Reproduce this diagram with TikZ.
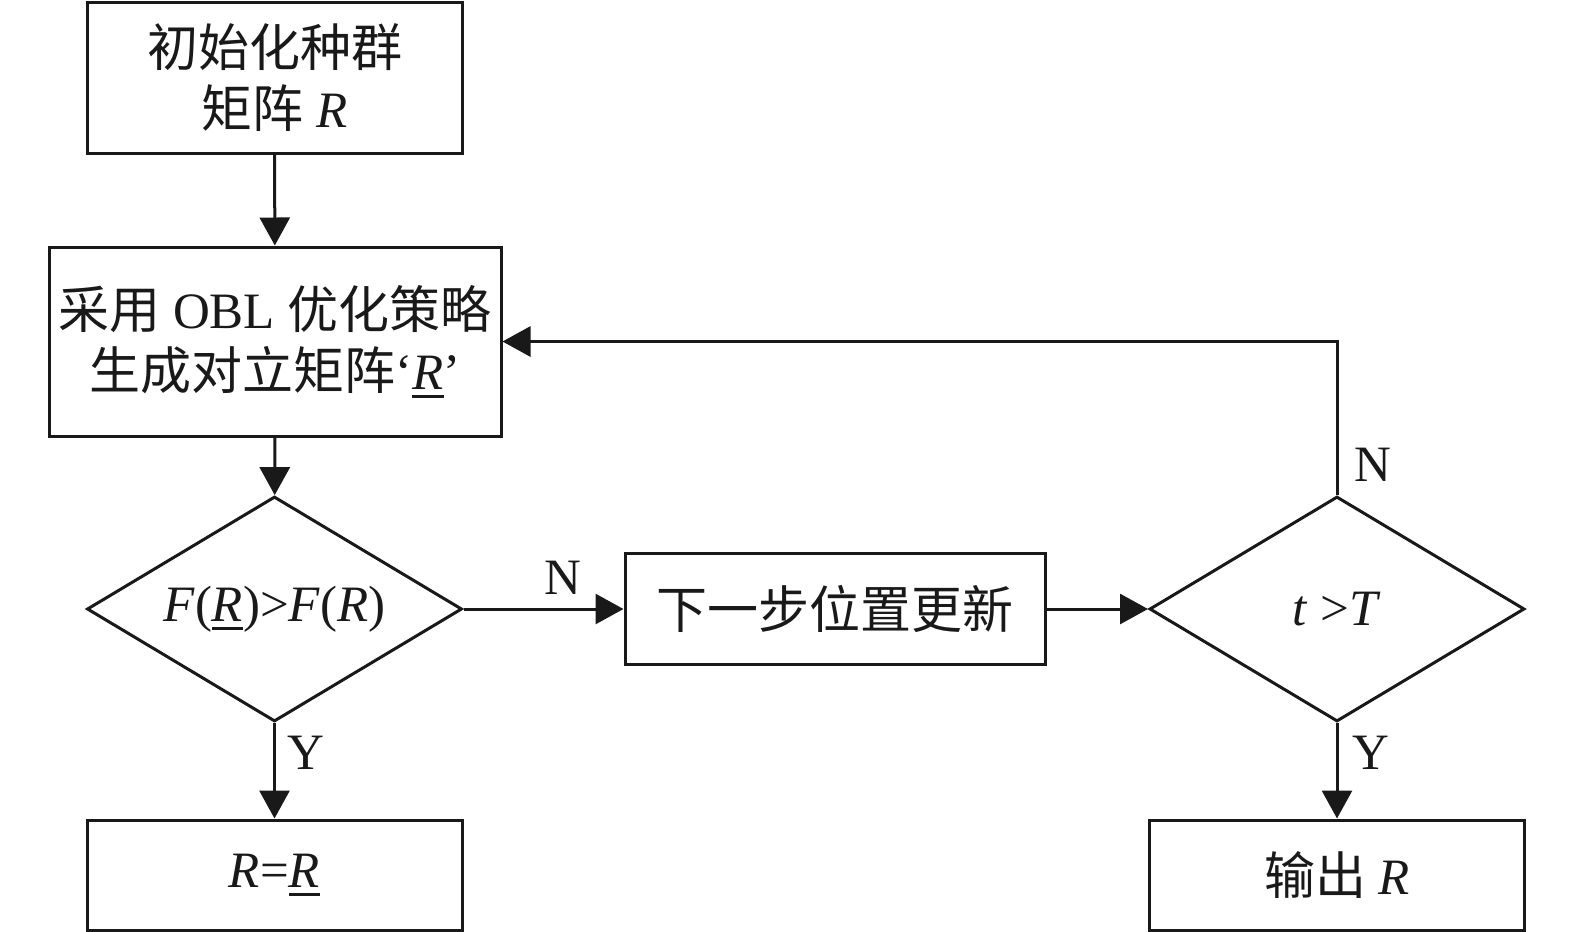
\documentclass[tikz,border=0pt]{standalone}
\usepackage{fontspec}
\setmainfont{Liberation Serif}
\newfontfamily\cjk{Noto Sans CJK SC}
\usetikzlibrary{shapes.geometric,arrows.meta}
\newcommand\ulit[1]{\setbox0\hbox{\textit{#1}}\rlap{\rule[-4.5pt]{\wd0}{1.4pt}}\box0}
\tikzset{
  base/.style={draw=black!90, line width=1.5pt, inner sep=0pt, align=center,
    font=\fontsize{25.5}{30.5}\selectfont, text=black!90},
  procbox/.style={base, rectangle},
  decbox/.style={base, diamond, aspect=1.667, minimum width=187.5pt, minimum height=112.5pt},
  arr/.style={line width=1.5pt, draw=black!90, -{Triangle[length=14pt,width=15pt]}},
  lbl/.style={inner sep=0pt, font=\fontsize{25.5}{30.5}\selectfont, text=black!90},
}
\begin{document}
\begin{tikzpicture}[x=0.5pt,y=-0.5pt]
\useasboundingbox (0,0) rectangle (1575,932);
\node[procbox, minimum width=187.5pt, minimum height=75.5pt] (b1) at (274.5,77.5)
  {{\cjk 初始化种群}\\{\cjk 矩阵} \textit{R}};
\node[procbox, minimum width=226pt, minimum height=94.5pt] (b2) at (275,341.5)
  {{\cjk 采用} OBL {\cjk 优化策略}\\{\cjk 生成对立矩阵}`\ulit{R}'};
\node[decbox] (d1) at (274.5,609)
  {\textit{F}(\ulit{R})>\textit{F}(\textit{R})};
\node[procbox, minimum width=210pt, minimum height=55.5pt] (b3) at (835,609)
  {\cjk 下一步位置更新};
\node[decbox] (d2) at (1337,609) {\textit{t} >\textit{T}};
\node[procbox, minimum width=187.5pt, minimum height=55pt] (b4) at (274.5,875)
  {\textit{R}=\ulit{R}};
\node[procbox, minimum width=187.5pt, minimum height=55pt] (b5) at (1337,875)
  {{\cjk 输出} \textit{R}};
\draw[arr] (b1) -- (b2);
\draw[arr] (b2) -- (d1);
\draw[arr] (d1) -- (b3);
\draw[arr] (b3) -- (d2);
\draw[arr] (d1) -- (b4);
\draw[arr] (d2) -- (b5);
\draw[arr] (d2.north) -- (d2.north |- b2.east) -- (b2.east);
\node[lbl] (n1) at (563,578) {N};
\node[lbl] (n2) at (1373,465) {N};
\node[lbl] (y1) at (306,753) {Y};
\node[lbl] (y2) at (1371,753) {Y};
\end{tikzpicture}
\end{document}
